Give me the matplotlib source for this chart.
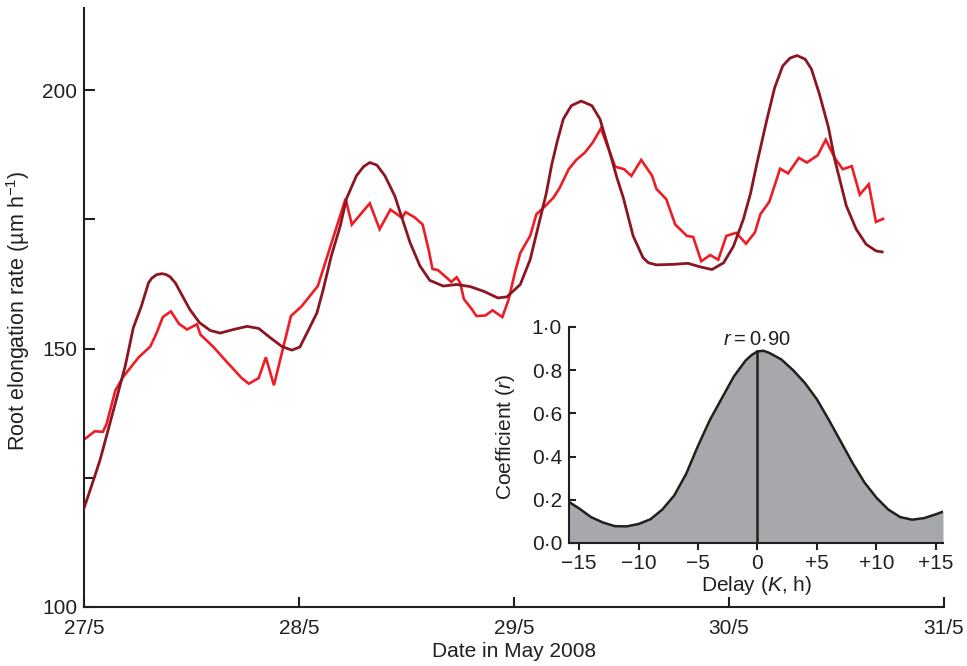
"""Root elongation rate vs date, with cross-correlation inset."""

import matplotlib
matplotlib.use('Agg')
import matplotlib.pyplot as plt
import numpy as np

plt.rcParams['font.family'] = ['Liberation Sans', 'DejaVu Sans']
plt.rcParams['mathtext.fontset'] = 'custom'
plt.rcParams['mathtext.rm'] = 'Liberation Sans'
plt.rcParams['mathtext.it'] = 'Liberation Sans:italic'

INK = '#231f20'
DARK = '#8c1522'
RED = '#ee1c25'
GREY = '#a7a8ab'

# measured rate, hours since 27/5 00:00
red_h = [0.0, 1.2, 2.1, 2.5, 3.5, 4.4, 6.1, 7.4, 8.1, 8.8, 9.7, 10.6, 11.5, 12.6,
         13.0, 14.4, 15.9, 17.6, 18.4, 19.5, 20.3, 21.2, 23.1, 24.3, 26.1, 29.2,
         29.9, 31.9, 33.0, 34.2, 35.5, 35.9, 36.9, 37.8, 38.2, 38.5, 38.9, 39.5,
         40.5, 41.0, 41.6, 42.0, 42.4, 43.3, 43.8, 44.8, 45.6, 46.7, 47.4, 48.1,
         48.7, 49.8, 50.5, 51.5, 52.4, 53.1, 54.1, 55.0, 55.9, 56.8, 57.7, 59.3,
         60.3, 61.1, 62.2, 63.4, 63.9, 65.0, 66.0, 67.3, 68.0, 68.9, 69.9, 70.8,
         71.7, 72.8, 73.9, 74.9, 75.5, 76.5, 77.7, 78.6, 79.8, 80.7, 81.9, 82.8,
         83.8, 84.7, 85.7, 86.6, 87.6, 88.4, 89.2]
red_v = [132.4, 134.0, 133.9, 135.3, 141.9, 144.6, 148.3, 150.4, 153.0, 156.1,
         157.2, 154.8, 153.7, 154.7, 152.7, 150.4, 147.5, 144.3, 143.2, 144.3,
         148.3, 142.9, 156.3, 158.2, 162.1, 179.0, 174.0, 178.1, 173.1, 176.9,
         175.3, 176.4, 175.4, 174.0, 171.1, 168.9, 165.4, 165.2, 163.7, 162.9,
         163.8, 162.7, 159.6, 157.6, 156.3, 156.4, 157.4, 156.1, 159.5, 164.7,
         168.5, 171.8, 176.0, 177.6, 179.2, 181.1, 184.7, 186.6, 187.9, 189.9,
         192.6, 185.2, 184.7, 183.4, 186.5, 183.5, 180.9, 178.9, 174.0, 171.8,
         171.6, 166.9, 168.1, 167.2, 171.8, 172.4, 170.3, 172.5, 176.0, 178.4,
         184.8, 183.9, 186.9, 186.0, 187.4, 190.4, 186.9, 184.7, 185.3, 179.8,
         181.8, 174.5, 175.1]

# modelled rate
dark_h = [0.0, 1.2, 1.8, 2.5, 3.6, 4.6, 5.5, 6.4, 7.2, 7.55, 8.1, 8.7, 9.2,
          9.6, 10.2, 10.7, 11.8, 12.9, 14.1, 15.2, 16.7, 18.2, 19.5, 20.8,
          22.1, 23.2, 24.1, 25.0, 26.0, 26.7, 27.6, 28.6, 29.3, 30.4, 31.2,
          31.9, 32.7, 33.6, 34.7, 35.3, 36.4, 37.5, 38.6, 40.1, 41.6, 43.1,
          44.6, 46.2, 47.2, 48.7, 49.8, 50.9, 51.6, 52.2, 52.8, 53.5, 54.4,
          55.5, 56.7, 57.6, 58.7, 59.5, 60.2, 61.3, 62.4, 63.0, 63.9, 65.8,
          67.4, 68.8, 70.1, 71.4, 72.5, 73.6, 74.4, 75.1, 76.2, 77.1, 78.0,
          78.8, 79.6, 80.5, 81.2, 82.1, 83.1, 83.8, 85.1, 86.2, 87.3, 88.4,
          89.1]
dark_v = [119.1, 125.3, 128.5, 133.0, 140.1, 146.6, 154.0, 158.2, 162.7, 163.6,
          164.3, 164.5, 164.3, 163.9, 162.7, 161.1, 157.6, 155.0, 153.5, 153.0,
          153.7, 154.3, 153.9, 152.1, 150.4, 149.7, 150.3, 153.4, 156.9, 161.4,
          167.9, 173.7, 179.0, 183.4, 185.2, 186.0, 185.5, 183.4, 179.5, 176.3,
          170.5, 166.0, 163.2, 162.1, 162.4, 162.0, 161.1, 159.8, 160.0, 162.4,
          167.2, 175.0, 180.0, 185.5, 189.9, 194.4, 197.0, 197.9, 197.0, 194.4,
          187.9, 183.0, 179.2, 171.8, 167.6, 166.6, 166.2, 166.3, 166.5, 165.8,
          165.3, 166.6, 169.8, 175.0, 180.0, 185.7, 194.1, 200.5, 204.7, 206.2,
          206.7, 206.0, 204.1, 199.2, 192.8, 186.6, 177.6, 173.1, 170.2, 168.9,
          168.7]

date_ticks = [0, 24, 48, 72, 96]
date_labels = ['27/5', '28/5', '29/5', '30/5', '31/5']

# cross-correlation coefficient against delay
delay = [-15.85, -15, -14, -13, -12, -11, -10, -9, -8, -7, -6, -5, -4, -3, -2,
         -1, -0.5, 0, 0.5, 1, 2, 3, 4, 5, 6, 7, 8, 9, 10, 11, 12, 13, 14, 15,
         15.6]
coef = [0.19, 0.16, 0.12, 0.095, 0.078, 0.077, 0.088, 0.11, 0.155, 0.22, 0.32,
        0.45, 0.57, 0.67, 0.77, 0.845, 0.87, 0.887, 0.89, 0.88, 0.85, 0.80,
        0.74, 0.665, 0.57, 0.47, 0.37, 0.28, 0.21, 0.155, 0.12, 0.108, 0.115,
        0.133, 0.145]
peak_r = 0.887

fig = plt.figure(figsize=(9.67, 6.66), dpi=100)
ax = fig.add_axes((84 / 967, 59 / 666, 860 / 967, 599 / 666))
ax.plot(red_h, red_v, color=RED, lw=1.9, solid_joinstyle='miter', zorder=2)
ax.plot(dark_h, dark_v, color=DARK, lw=2.0, solid_joinstyle='round', zorder=3)

ax.set_xlim(0, 96)
ax.set_ylim(100, 215.9)
ax.set_xticks(date_ticks)
ax.set_xticklabels(date_labels)
ax.set_yticks([100, 150, 200])
ax.set_yticks([125, 175], minor=True)
for s in ['top', 'right']:
    ax.spines[s].set_visible(False)
for s in ['left', 'bottom']:
    ax.spines[s].set_linewidth(1.5)
    ax.spines[s].set_color(INK)
ax.tick_params(axis='x', direction='in', length=7, width=1.5, color=INK,
               labelsize=15, labelcolor=INK, pad=9)
ax.tick_params(axis='y', which='both', direction='in', length=8, width=1.5,
               color=INK, labelsize=15, labelcolor=INK, pad=5)
ax.set_xlabel('Date in May 2008', fontsize=15, color=INK)
ax.xaxis.set_label_coords(0.5, -0.058)
ax.set_ylabel('Root elongation rate (µm h$^{-1}$)', fontsize=15.5, color=INK)
ax.yaxis.set_label_coords(-0.061, 0.495)

# inset
ins = fig.add_axes((569 / 967, 123 / 666, 374 / 967, 216 / 666))
ins.patch.set_alpha(0)
ins.fill_between(delay, 0, coef, color=GREY, lw=0)
ins.plot(delay, coef, color=INK, lw=1.8, solid_joinstyle='round')
ins.plot([0, 0], [0, peak_r], color=INK, lw=1.8)
ins.set_xlim(-15.85, 15.6)
ins.set_ylim(0, 1.0)
ins.set_xticks([-15, -10, -5, 0, 5, 10, 15])
ins.set_xticklabels(['\u221215', '\u221210', '\u22125', '0', '+5', '+10', '+15'])
ins.set_yticks([0, 0.2, 0.4, 0.6, 0.8, 1.0])
ins.set_yticklabels(['0\u00b70', '0\u00b72', '0\u00b74', '0\u00b76', '0\u00b78', '1\u00b70'])
for s in ['top', 'right']:
    ins.spines[s].set_visible(False)
for s in ['left', 'bottom']:
    ins.spines[s].set_linewidth(1.5)
    ins.spines[s].set_color(INK)
ins.tick_params(axis='x', direction='out', length=5, width=1.5, color=INK,
                labelsize=15, labelcolor=INK, pad=3)
ins.tick_params(axis='y', direction='in', length=5, width=1.5, color=INK,
                labelsize=15, labelcolor=INK, pad=5)
ins.set_xlabel('Delay ($\\it{K}$, h)', fontsize=15, color=INK)
ins.xaxis.set_label_coords(0.5, -0.145)
ins.set_ylabel('Coefficient ($\\it{r}$)', fontsize=15, color=INK)
ins.yaxis.set_label_coords(-0.138, 0.49)
ins.text(0, 0.915, '$\\it{r}$\u2009=\u20090\u00b790', ha='center', va='baseline',
         fontsize=14.5, color=INK)

fig.savefig('out.png', dpi=100)
